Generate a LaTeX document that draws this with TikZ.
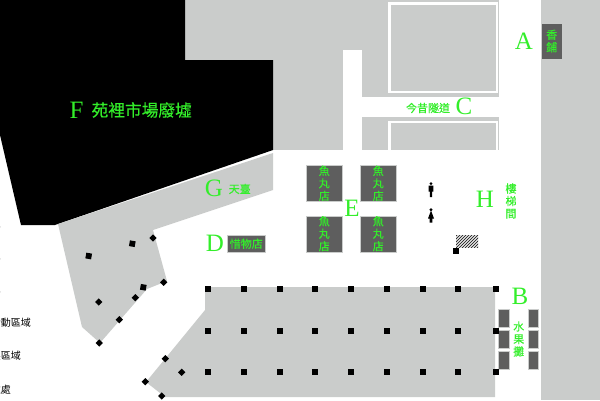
\documentclass[tikz,border=0pt]{standalone}
\usepackage{fontspec}
\newfontfamily\cjk[FakeBold=0.25]{Noto Sans CJK TC}
\newfontfamily\sidefont{Noto Sans CJK TC}
\newfontfamily\serifletter{Liberation Serif}
\definecolor{floorgray}{HTML}{CACCCB}
\definecolor{stalldark}{HTML}{5E5E5E}
\definecolor{labelgreen}{HTML}{33EE2A}
\tikzset{
  floor/.style={fill=floorgray, draw=none},
  stall/.style={rectangle, fill=stalldark, draw=floorgray, line width=0.6pt, inner sep=0pt, anchor=north west},
  pillar/.style={rectangle, fill=black, minimum size=5.8pt, inner sep=0pt},
  tilted/.style={rectangle, fill=black, minimum size=5.2pt, inner sep=0pt, rotate=45},
  letter/.style={text=labelgreen, inner sep=0pt, font=\serifletter\fontsize{25}{25}\selectfont},
  tag/.style={text=labelgreen, inner sep=0pt, align=center, font=\cjk\fontsize{11}{12.5}\selectfont},
  side/.style={text=black, inner sep=0pt, anchor=east, font=\sidefont\fontsize{10}{12}\selectfont},
}
\begin{document}
\begin{tikzpicture}[x=1pt, y=-1pt]
   \useasboundingbox (0,0) rectangle (600,400);
   % floors
   \fill[floor] (185,0) rectangle (499,150);
   \fill[floor] (541,0) rectangle (600,400);
   \fill[black] (0,0) -- (185,0) -- (185,60) -- (273,60) -- (273,150) -- (55,225) -- (21,225) -- (0,135) -- cycle;
   \fill[floor] (58,224) -- (273,153) -- (273,190) -- (153,230) -- (167,281) -- (147,289) -- (100,343) -- (82,327) -- cycle;
   \fill[floor] (205,287) -- (495,287) -- (495,397) -- (165,397) -- (146,382) -- (205,310) -- cycle;
   % lanes
   \fill[white] (343,50) rectangle (362,150);
   \fill[white] (362,97) rectangle (499,117);
   \draw[white, line width=2.5pt] (389.5,3.5) rectangle (497,92);
   \draw[white, line width=2.5pt] (389.5,150) -- (389.5,122) -- (497,122) -- (497,150);
   % stalls
   \node[stall, minimum width=21pt, minimum height=35.5pt] (shopA) at (540.7,23) {};
   \node[stall, minimum width=36pt, minimum height=36pt] (ballNW) at (306.3,165.3) {};
   \node[stall, minimum width=36pt, minimum height=36pt] (ballNE) at (360.3,165.3) {};
   \node[stall, minimum width=36pt, minimum height=36pt] (ballSW) at (306.3,215.7) {};
   \node[stall, minimum width=36pt, minimum height=36pt] (ballSE) at (360.3,215.7) {};
   \node[stall, minimum width=38pt, minimum height=17pt] (shopD) at (227.3,235) {};
   \foreach \sx/\sn in {498.3/l, 527.7/r}
     \foreach \sy/\sm in {309.3/a, 330.3/b, 351/c}
       \node[stall, minimum width=10.5pt, minimum height=18pt] (fruit\sn\sm) at (\sx,\sy) {};
   % hatch
   \begin{scope}
     \clip (456,235) rectangle (478,247.3);
     \foreach \hx in {444,447,...,480}
       \draw[black!80, line width=1pt] (\hx,248) -- (\hx+14,234);
   \end{scope}
   % pillars
   \foreach \px in {208.3,244,279.7,315.3,351.3,387,422.7,458.3,496}
     \foreach \py in {289.3,331,372.3}
       \node[pillar] at (\px,\py) {};
   \node[pillar] at (455.7,251.3) {};
   \node[pillar, rotate=-10] at (88.7,256) {};
   \node[pillar, rotate=-10] at (132.3,243.7) {};
   \node[pillar, rotate=-10] at (143.3,287.3) {};
   \foreach \px/\py in {153/238, 163.7/282.3, 135.3/297.7, 98.7/302, 119.3/319.7, 99.3/343, 165.3/358.7, 181.7/372.3, 145.3/381.7, 161.7/396}
     \node[tilted] at (\px,\py) {};
   % people
   \fill[black] (431,183.6) circle (1.6) (428.7,185.5) rectangle (433.3,191.5) (429.8,191) rectangle (432.2,197);
   \fill[black] (431,209.8) circle (1.6) (431,210.5) -- (434,218.5) -- (432.3,218.5) -- (432.3,222.7) -- (429.7,222.7) -- (429.7,218.5) -- (428,218.5) -- cycle;
   % labels
   \node[letter] (lblA) at (524,41) {A};
   \node[letter] (lblB) at (520,296.7) {B};
   \node[letter] (lblC) at (464,106.7) {C};
   \node[letter] (lblD) at (215,243.7) {D};
   \node[letter] (lblE) at (352,208) {E};
   \node[letter] (lblF) at (76.7,110) {F};
   \node[letter] (lblG) at (214,188.3) {G};
   \node[letter] (lblH) at (485,199) {H};
   \node[tag] at (551.7,41) {香\\鋪};
   \node[tag] at (428,108) {今昔隧道};
   \node[tag] at (239.7,189) {天臺};
   \node[tag] at (246.3,243.7) {惜物店};
   \node[tag] at (511,201) {樓\\梯\\間};
   \node[tag] at (518.7,339) {水\\果\\攤};
   \foreach \bx/\by in {324.3/183.3, 378.3/183.3, 324.3/233.7, 378.3/233.7}
     \node[tag] at (\bx,\by) {魚\\丸\\店};
   \node[tag, font=\cjk\fontsize{16.7}{18}\selectfont] at (141.7,110) {苑裡市場廢墟};
   \node[side] at (31,323) {活動區域};
   \node[side] at (21,356) {展區域};
   \node[side] at (11,390) {住處};
   \node[side] at (1,224) {區};
   \node[side] at (1,256) {區};
   \node[side] at (1,289) {區};
\end{tikzpicture}
\end{document}
